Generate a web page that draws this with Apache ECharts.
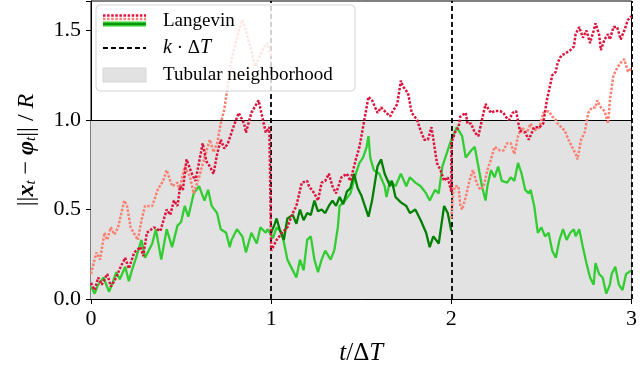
<!DOCTYPE html>
<html>
<head>
<meta charset="utf-8">
<script src="https://cdn.jsdelivr.net/npm/echarts@6/dist/echarts.min.js"></script>
<style>
  html, body { margin: 0; padding: 0; background: #fff; }
  #chart { width: 640px; height: 381px; }
</style>
</head>
<body>
<div id="chart"></div>
<script>
// Langevin paths, [t / dT, ||x_t - phi_t|| / R]
const crimsonPath = [
  [0.00, 0.09], [0.02, 0.05], [0.04, 0.12], [0.06, 0.08], [0.09, 0.14], [0.11, 0.07], [0.13, 0.10],
  [0.165, 0.18], [0.19, 0.23], [0.21, 0.17], [0.24, 0.26], [0.275, 0.29], [0.29, 0.24], [0.31, 0.37],
  [0.35, 0.40], [0.385, 0.38], [0.42, 0.50], [0.44, 0.47], [0.46, 0.55], [0.48, 0.52], [0.495, 0.63],
  [0.51, 0.61], [0.53, 0.78], [0.56, 0.70], [0.58, 0.66], [0.62, 0.87], [0.64, 0.77], [0.66, 0.74],
  [0.68, 0.70], [0.70, 0.81], [0.72, 0.89], [0.74, 0.84], [0.76, 0.87], [0.79, 0.96], [0.82, 1.04],
  [0.85, 0.98], [0.86, 0.93], [0.89, 1.04], [0.93, 1.11], [0.95, 1.02], [0.97, 0.93], [0.99, 0.96],
  [1.00, 0.95], [1.00, 0.27], [1.03, 0.33], [1.06, 0.37], [1.09, 0.40], [1.12, 0.48], [1.14, 0.52],
  [1.17, 0.65], [1.20, 0.66], [1.21, 0.63], [1.24, 0.59], [1.26, 0.55], [1.28, 0.65], [1.30, 0.66],
  [1.32, 0.70], [1.34, 0.63], [1.36, 0.59], [1.39, 0.68], [1.42, 0.70], [1.44, 0.66], [1.47, 0.78],
  [1.49, 0.85], [1.51, 0.96], [1.54, 1.13], [1.56, 1.11], [1.59, 1.04], [1.61, 1.07], [1.63, 1.05],
  [1.66, 1.02], [1.67, 1.04], [1.70, 1.09], [1.72, 1.22], [1.73, 1.19], [1.76, 1.15], [1.78, 1.04],
  [1.81, 1.00], [1.83, 0.94], [1.85, 0.89], [1.87, 0.89], [1.89, 0.96], [1.90, 0.96], [1.92, 0.76],
  [1.94, 0.72], [1.96, 0.66], [1.98, 0.68], [2.00, 0.60], [2.00, 0.87], [2.02, 0.93], [2.04, 0.96],
  [2.05, 1.02], [2.08, 1.04], [2.09, 0.98], [2.11, 0.98], [2.13, 0.93], [2.15, 0.91], [2.17, 1.00],
  [2.19, 1.09], [2.20, 1.07], [2.22, 1.04], [2.24, 1.05], [2.27, 1.05], [2.29, 1.04], [2.30, 1.02],
  [2.32, 1.00], [2.34, 1.04], [2.36, 1.05], [2.38, 0.94], [2.41, 0.93], [2.43, 0.89], [2.46, 0.96],
  [2.49, 0.96], [2.51, 0.98], [2.53, 1.11], [2.55, 1.20], [2.56, 1.25], [2.58, 1.27], [2.59, 1.32],
  [2.61, 1.36], [2.63, 1.37], [2.66, 1.39], [2.68, 1.41], [2.69, 1.48], [2.71, 1.52], [2.73, 1.46],
  [2.75, 1.50], [2.77, 1.43], [2.79, 1.50], [2.80, 1.54], [2.82, 1.48], [2.83, 1.39], [2.85, 1.45],
  [2.87, 1.48], [2.88, 1.45], [2.90, 1.52], [2.92, 1.52], [2.94, 1.45], [2.96, 1.50], [2.98, 1.56],
  [3.00, 1.58]
];

const salmonPathA = [
  [0.00, 0.14], [0.03, 0.26], [0.05, 0.22], [0.075, 0.37], [0.09, 0.33], [0.11, 0.40], [0.13, 0.36],
  [0.15, 0.40], [0.185, 0.55], [0.20, 0.52], [0.22, 0.40], [0.26, 0.33], [0.28, 0.44], [0.30, 0.52],
  [0.34, 0.52], [0.37, 0.61], [0.40, 0.66], [0.42, 0.72], [0.45, 0.63], [0.48, 0.65], [0.49, 0.61],
  [0.52, 0.74], [0.55, 0.68], [0.57, 0.59], [0.60, 0.68], [0.63, 0.79], [0.66, 0.89], [0.68, 0.82],
  [0.70, 0.87], [0.72, 0.98], [0.74, 1.06], [0.76, 1.20], [0.78, 1.34], [0.81, 1.46], [0.84, 1.56],
  [0.86, 1.50], [0.87, 1.46], [0.89, 1.39], [0.91, 1.30], [0.93, 1.34], [0.96, 1.41], [0.98, 1.43],
  [1.00, 1.35]
];

const salmonPathB = [
  [2.00, 0.45], [2.01, 0.59], [2.02, 0.63], [2.04, 0.63], [2.05, 0.52], [2.06, 0.50], [2.08, 0.57],
  [2.10, 0.66], [2.12, 0.72], [2.14, 0.65], [2.16, 0.61], [2.18, 0.63], [2.20, 0.72], [2.22, 0.78],
  [2.24, 0.85], [2.27, 0.83], [2.29, 0.83], [2.31, 0.87], [2.33, 0.87], [2.35, 0.81], [2.37, 0.91],
  [2.39, 0.96], [2.42, 0.93], [2.44, 0.98], [2.46, 0.94], [2.49, 0.96], [2.51, 1.04], [2.54, 1.05],
  [2.56, 1.02], [2.58, 1.00], [2.59, 0.98], [2.61, 0.96], [2.63, 0.94], [2.65, 0.89], [2.67, 0.85],
  [2.69, 0.81], [2.70, 0.78], [2.72, 0.89], [2.74, 0.93], [2.76, 1.04], [2.78, 1.07], [2.80, 1.07],
  [2.81, 1.11], [2.83, 1.07], [2.85, 1.05], [2.87, 0.98], [2.88, 1.11], [2.90, 1.25], [2.92, 1.29],
  [2.94, 1.32], [2.96, 1.34], [2.98, 1.27], [3.00, 1.29]
];

const limePath = [
  [0.00, 0.07], [0.02, 0.03], [0.04, 0.08], [0.07, 0.12], [0.10, 0.04], [0.12, 0.09], [0.14, 0.15],
  [0.16, 0.11], [0.19, 0.18], [0.21, 0.10], [0.23, 0.17], [0.25, 0.23], [0.28, 0.33], [0.30, 0.23],
  [0.32, 0.27], [0.34, 0.31], [0.36, 0.39], [0.39, 0.22], [0.42, 0.39], [0.45, 0.29], [0.48, 0.41],
  [0.50, 0.43], [0.52, 0.52], [0.54, 0.46], [0.57, 0.59], [0.60, 0.63], [0.63, 0.55], [0.65, 0.61],
  [0.67, 0.52], [0.70, 0.48], [0.72, 0.39], [0.75, 0.37], [0.77, 0.29], [0.78, 0.33], [0.81, 0.39],
  [0.84, 0.35], [0.86, 0.26], [0.89, 0.37], [0.92, 0.31], [0.94, 0.40], [0.97, 0.37], [0.98, 0.39],
  [1.01, 0.34], [1.03, 0.40], [1.06, 0.37], [1.09, 0.22], [1.12, 0.16], [1.14, 0.12], [1.16, 0.22],
  [1.18, 0.16], [1.20, 0.33], [1.22, 0.35], [1.24, 0.22], [1.26, 0.15], [1.28, 0.22], [1.30, 0.27],
  [1.33, 0.22], [1.35, 0.27], [1.37, 0.40], [1.38, 0.52], [1.41, 0.55], [1.44, 0.59], [1.47, 0.70],
  [1.49, 0.76], [1.51, 0.79], [1.53, 0.85], [1.54, 0.91], [1.55, 0.79], [1.57, 0.72], [1.60, 0.70],
  [1.63, 0.63], [1.64, 0.57], [1.66, 0.66], [1.69, 0.63], [1.72, 0.70], [1.75, 0.63], [1.77, 0.68],
  [1.80, 0.65], [1.83, 0.63], [1.86, 0.59], [1.88, 0.55], [1.91, 0.61], [1.93, 0.59], [1.95, 0.74],
  [1.98, 0.83], [2.00, 0.89], [2.01, 0.89], [2.03, 0.96], [2.06, 0.91], [2.08, 0.79], [2.09, 0.78],
  [2.11, 0.83], [2.13, 0.85], [2.15, 0.74], [2.17, 0.63], [2.19, 0.55], [2.20, 0.63], [2.22, 0.72],
  [2.24, 0.68], [2.26, 0.74], [2.28, 0.66], [2.31, 0.65], [2.33, 0.68], [2.35, 0.66], [2.37, 0.76],
  [2.39, 0.70], [2.41, 0.61], [2.43, 0.59], [2.44, 0.61], [2.46, 0.52], [2.48, 0.37], [2.50, 0.40],
  [2.52, 0.35], [2.54, 0.37], [2.56, 0.27], [2.58, 0.23], [2.60, 0.33], [2.62, 0.39], [2.64, 0.33],
  [2.66, 0.37], [2.68, 0.39], [2.69, 0.35], [2.71, 0.39], [2.73, 0.29], [2.75, 0.20], [2.77, 0.12],
  [2.79, 0.08], [2.80, 0.20], [2.82, 0.14], [2.84, 0.12], [2.86, 0.03], [2.88, 0.08], [2.89, 0.14],
  [2.91, 0.18], [2.93, 0.08], [2.95, 0.05], [2.97, 0.14], [3.00, 0.16]
];

const greenPath = [
  [1.00, 0.37], [1.02, 0.42], [1.03, 0.45], [1.05, 0.38], [1.07, 0.33], [1.09, 0.45], [1.12, 0.47],
  [1.14, 0.42], [1.16, 0.50], [1.18, 0.44], [1.20, 0.48], [1.22, 0.47], [1.24, 0.55], [1.26, 0.49],
  [1.28, 0.50], [1.30, 0.48], [1.32, 0.52], [1.34, 0.55], [1.36, 0.52], [1.38, 0.57], [1.40, 0.53],
  [1.42, 0.60], [1.44, 0.62], [1.46, 0.70], [1.48, 0.62], [1.50, 0.58], [1.52, 0.52], [1.54, 0.46],
  [1.56, 0.55], [1.59, 0.74], [1.61, 0.78], [1.63, 0.70], [1.66, 0.63], [1.67, 0.66], [1.69, 0.57],
  [1.72, 0.54], [1.75, 0.52], [1.77, 0.48], [1.80, 0.50], [1.83, 0.44], [1.86, 0.37], [1.88, 0.29],
  [1.90, 0.35], [1.93, 0.31], [1.96, 0.52], [1.98, 0.48], [2.00, 0.38]
];

const xTicks = [0, 1, 2, 3];
const yTicks = [0, 0.5, 1.0, 1.5];
const resetTimes = [1, 2, 3];
const tubeRadius = 1.0;

const SERIF = "'Liberation Serif', 'DejaVu Serif', serif";
const chart = echarts.init(document.getElementById('chart'));

function path(data, color, dotted, z) {
  return {
    type: 'line',
    data: data,
    showSymbol: false,
    silent: true,
    z: z,
    lineStyle: dotted
      ? { color: color, width: 2.5, type: [2.5, 1.6] }
      : { color: color, width: 2.3, type: 'solid' }
  };
}

const option = {
  animation: false,
  grid: { left: 91, right: 4, top: 1, bottom: 82, show: true, borderColor: '#000', borderWidth: 1 },
  xAxis: {
    type: 'value', min: xTicks[0], max: xTicks[xTicks.length - 1], interval: 1,
    axisLine: { lineStyle: { color: '#000', width: 1 } },
    axisTick: { show: true, inside: false, length: 5, lineStyle: { color: '#000' } },
    splitLine: { show: false },
    axisLabel: { color: '#000', fontSize: 22, fontFamily: SERIF, margin: 9 },
    name: '{i|t}/Δ{i|T}',
    nameLocation: 'middle',
    nameGap: 42,
    nameTextStyle: {
      color: '#000', fontSize: 25, fontFamily: SERIF,
      rich: { i: { fontStyle: 'italic', fontSize: 25, fontFamily: SERIF, color: '#000' } }
    }
  },
  yAxis: {
    type: 'value', min: 0, max: 1.665, interval: 0.5,
    axisLine: { show: true, lineStyle: { color: '#000', width: 1 } },
    axisTick: { show: true, inside: false, length: 5, lineStyle: { color: '#000' } },
    splitLine: { show: false },
    axisLabel: {
      color: '#000', fontSize: 22, fontFamily: SERIF, margin: 10,
      formatter: v => yTicks.some(t => Math.abs(t - v) < 1e-6) ? v.toFixed(1) : ''
    },
    name: '{n|||}{bx|x}{s|t}{n| − }{bx|φ}{s|t}{n||| / }{i|R}',
    nameLocation: 'middle',
    nameGap: 52,
    nameTextStyle: {
      color: '#000', fontSize: 24, fontFamily: SERIF,
      rich: {
        n: { fontSize: 24, fontFamily: SERIF, color: '#000' },
        bx: { fontSize: 24, fontFamily: SERIF, fontWeight: 'bold', fontStyle: 'italic', color: '#000' },
        s: { fontSize: 15, fontFamily: SERIF, fontStyle: 'italic', color: '#000', verticalAlign: 'bottom', padding: [8, 0, 0, 0] },
        i: { fontSize: 24, fontFamily: SERIF, fontStyle: 'italic', color: '#000' }
      }
    }
  },
  graphic: [
    { type: 'rect', z: 100, shape: { x: 96, y: 5, width: 259, height: 86, r: 4 },
      style: { fill: 'rgba(255,255,255,0.8)', stroke: '#d4d4d4', lineWidth: 1 } },
    { type: 'line', z: 101, shape: { x1: 103, y1: 15.5, x2: 146, y2: 15.5 },
      style: { stroke: '#dc143c', lineWidth: 2.5, lineDash: [2.5, 1.6] } },
    { type: 'line', z: 101, shape: { x1: 103, y1: 19, x2: 146, y2: 19 },
      style: { stroke: '#fa8072', lineWidth: 2.5, lineDash: [2.5, 1.6] } },
    { type: 'line', z: 101, shape: { x1: 103, y1: 24, x2: 146, y2: 24 },
      style: { stroke: '#32cd32', lineWidth: 5 } },
    { type: 'line', z: 102, shape: { x1: 103, y1: 24, x2: 146, y2: 24 },
      style: { stroke: '#008000', lineWidth: 1.5 } },
    { type: 'text', z: 101, x: 163, y: 21,
      style: { text: 'Langevin', font: '19px ' + SERIF, fill: '#000', verticalAlign: 'middle' } },
    { type: 'line', z: 101, shape: { x1: 103, y1: 48, x2: 146, y2: 48 },
      style: { stroke: '#000', lineWidth: 1.8, lineDash: [5, 3] } },
    { type: 'text', z: 101, x: 163, y: 48,
      style: {
        text: '{i|k} · Δ{i|T}', font: '19px ' + SERIF, fill: '#000', verticalAlign: 'middle',
        rich: { i: { fontStyle: 'italic', fontSize: 20, fontFamily: SERIF, fill: '#000' } }
      } },
    { type: 'rect', z: 101, shape: { x: 103, y: 68, width: 43, height: 14 },
      style: { fill: '#e2e2e2', stroke: '#d6d6d6', lineWidth: 1 } },
    { type: 'text', z: 101, x: 163, y: 75,
      style: { text: 'Tubular neighborhood', font: '19px ' + SERIF, fill: '#000', verticalAlign: 'middle' } }
  ],
  series: [
    {
      type: 'line', data: [], z: 1, silent: true,
      markArea: {
        silent: true,
        itemStyle: { color: '#e2e2e2' },
        data: [[{ yAxis: 0 }, { yAxis: tubeRadius }]]
      },
      markLine: {
        silent: true, symbol: 'none', label: { show: false },
        lineStyle: { color: '#000', width: 1, type: 'solid' },
        data: [{ yAxis: tubeRadius }]
      }
    },
    path(limePath, '#32cd32', false, 3),
    path(greenPath, '#008000', false, 4),
    path(salmonPathA, '#fa8072', true, 5),
    path(salmonPathB, '#fa8072', true, 5),
    path(crimsonPath, '#dc143c', true, 6),
    {
      type: 'line', data: [], z: 8, silent: true,
      markLine: {
        silent: true, symbol: 'none', label: { show: false },
        lineStyle: { color: '#000', width: 1.8, type: [5, 3] },
        data: resetTimes.map(t => ({ xAxis: t }))
      }
    }
  ]
};

chart.setOption(option);
</script>
</body>
</html>
